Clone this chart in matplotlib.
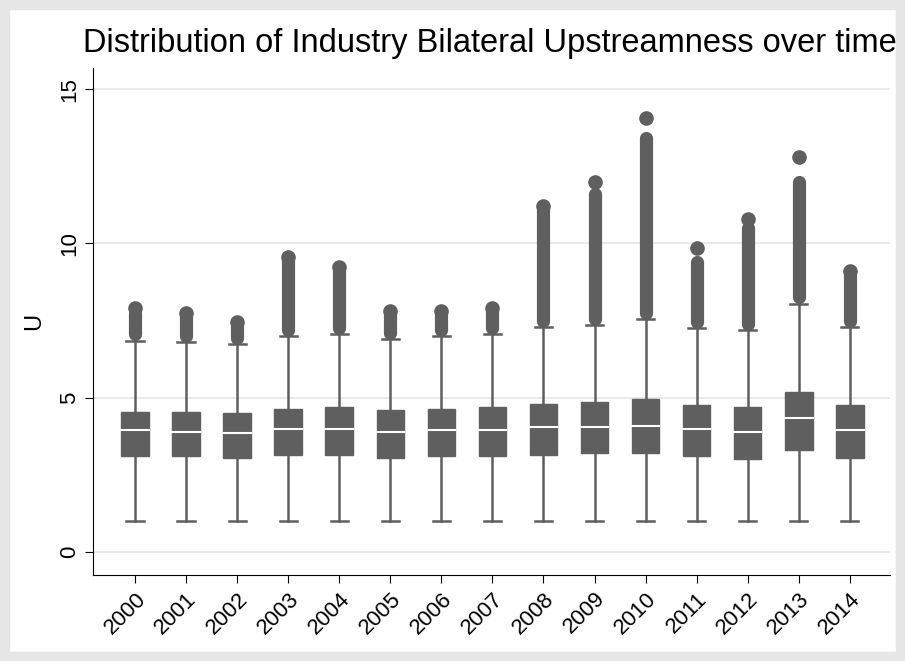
import matplotlib
matplotlib.use("Agg")
import matplotlib.pyplot as plt
from matplotlib.patches import Rectangle

plt.rcParams['font.family'] = ['Liberation Sans', 'DejaVu Sans']

years = ["2000","2001","2002","2003","2004","2005","2006","2007","2008","2009","2010","2011","2012","2013","2014"]
w_lo  = [1.0]*15
q1    = [3.1,3.1,3.05,3.15,3.15,3.05,3.1,3.1,3.15,3.2,3.2,3.1,3.0,3.3,3.05]
med   = [3.95,3.9,3.85,4.0,4.0,3.9,3.95,3.95,4.05,4.05,4.1,4.0,3.9,4.35,3.95]
q3    = [4.55,4.55,4.5,4.65,4.7,4.6,4.65,4.7,4.8,4.85,4.95,4.75,4.7,5.2,4.75]
w_hi  = [6.85,6.8,6.75,7.0,7.05,6.9,7.0,7.05,7.3,7.35,7.55,7.25,7.2,8.05,7.3]
dense_top = [7.75,7.7,7.4,9.5,9.2,7.75,7.7,7.8,11.1,11.6,13.4,9.4,10.5,12.0,9.0]
out_max   = [7.9,7.75,7.45,9.55,9.25,7.8,7.8,7.9,11.2,12.0,14.05,9.85,10.8,12.8,9.1]

fig = plt.figure(figsize=(9.05,6.61), dpi=100, facecolor="white")
fig.patches.append(Rectangle((0,0),1,1,transform=fig.transFigure,fill=False,edgecolor="#e6e6e6",linewidth=14))
ax = fig.add_axes([0.103,0.13,0.88,0.767])
grey = "#5f5f5f"
bw = 0.54
for i in range(len(years)):
    ax.plot([i,i],[w_lo[i],q1[i]],color=grey,lw=1.8,zorder=2)
    ax.plot([i,i],[q3[i],w_hi[i]],color=grey,lw=1.8,zorder=2)
    ax.plot([i-0.17,i+0.17],[w_lo[i]]*2,color=grey,lw=1.8)
    ax.plot([i-0.17,i+0.17],[w_hi[i]]*2,color=grey,lw=1.8)
    ax.add_patch(Rectangle((i-bw/2,q1[i]),bw,q3[i]-q1[i],facecolor=grey,edgecolor=grey,zorder=3))
    ax.plot([i-bw/2,i+bw/2],[med[i]]*2,color="white",lw=1.5,zorder=4)
    ax.plot([i,i],[w_hi[i]+0.2,dense_top[i]],color=grey,lw=9.5,solid_capstyle="round",zorder=2)
    ax.plot([i],[out_max[i]],'o',color=grey,ms=9.5,zorder=2)

ax.set_xlim(-0.82,14.78)
ax.set_ylim(-0.745,15.68)
ax.set_yticks([0,5,10,15])
ax.set_yticklabels(["0","5","10","15"],rotation=90,va="center",fontsize=16)
ax.set_xticks(range(15))
ax.set_xticklabels(years,rotation=45,ha="right",rotation_mode="anchor",fontsize=16)
ax.grid(axis="y",color="#e6e6e6",lw=1.2)
ax.set_axisbelow(True)
for s in ["top","right"]:
    ax.spines[s].set_visible(False)
ax.tick_params(length=6)
ax.set_ylabel("U",fontsize=17,labelpad=10)
fig.text(0.541,0.922,"Distribution of Industry Bilateral Upstreamness over time",ha="center",fontsize=23.5)
fig.savefig("out.png",dpi=100,facecolor="white")
